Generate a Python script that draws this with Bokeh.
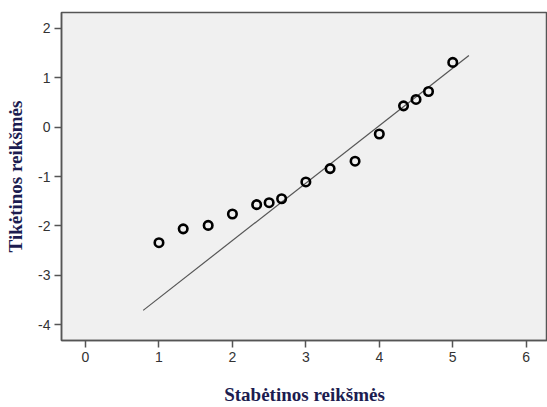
from bokeh.plotting import figure
from bokeh.models import Range1d, FixedTicker, CustomJSTickFormatter
from bokeh.embed import file_html
from bokeh.resources import INLINE

observed = [1.0, 1.33, 1.67, 2.0, 2.33, 2.5, 2.67, 3.0, 3.33, 3.67, 4.0, 4.33, 4.5, 4.67, 5.0]
expected = [-2.34, -2.06, -1.99, -1.76, -1.57, -1.53, -1.45, -1.11, -0.84, -0.69, -0.14, 0.43, 0.56, 0.72, 1.31]
line_x = [0.785, 5.22]
line_y = [-3.71, 1.45]
x_ticks = [0, 1, 2, 3, 4, 5, 6]
y_ticks = [-4, -3, -2, -1, 0, 1, 2]

p = figure(width=547, height=407, output_backend="svg", toolbar_location=None,
           x_range=Range1d(-0.327, 6.29), y_range=Range1d(-4.32, 2.32),
           min_border_left=61, min_border_right=0, min_border_top=12, min_border_bottom=64)
p.background_fill_color = "#f0f0f0"
p.border_fill_color = "white"
p.outline_line_color = "#555555"
p.outline_line_width = 1.5
p.xgrid.visible = False
p.ygrid.visible = False

p.line(line_x, line_y, line_color="#555555", line_width=1.2)
p.scatter(observed, expected, marker="circle", size=8.5, fill_color=None,
          line_color="black", line_width=2.6)

fmt = CustomJSTickFormatter(code="return tick.toString();")
for ax in (p.xaxis[0], p.yaxis[0]):
    ax.axis_line_color = "#555555"
    ax.axis_line_width = 1.5
    ax.major_tick_line_color = "#555555"
    ax.major_tick_line_width = 1.5
    ax.major_tick_out = 7
    ax.major_tick_in = 0
    ax.minor_tick_line_color = None
    ax.formatter = fmt
    ax.major_label_text_font = "Liberation Sans"
    ax.major_label_text_font_size = "14px"
    ax.major_label_text_color = "#333333"
    ax.axis_label_text_font = "Liberation Serif"
    ax.axis_label_text_font_style = "bold"
    ax.axis_label_text_font_size = "19px"
    ax.axis_label_text_color = "#1c1c50"

p.xaxis[0].ticker = FixedTicker(ticks=x_ticks)
p.yaxis[0].ticker = FixedTicker(ticks=y_ticks)
p.xaxis[0].axis_label = "Stabėtinos reikšmės"
p.yaxis[0].axis_label = "Tikėtinos reikšmės"
p.xaxis[0].major_label_standoff = 4
p.yaxis[0].major_label_standoff = 4
p.xaxis[0].axis_label_standoff = 19
p.yaxis[0].axis_label_standoff = 9

open("out.html", "w").write(file_html(p, INLINE))
